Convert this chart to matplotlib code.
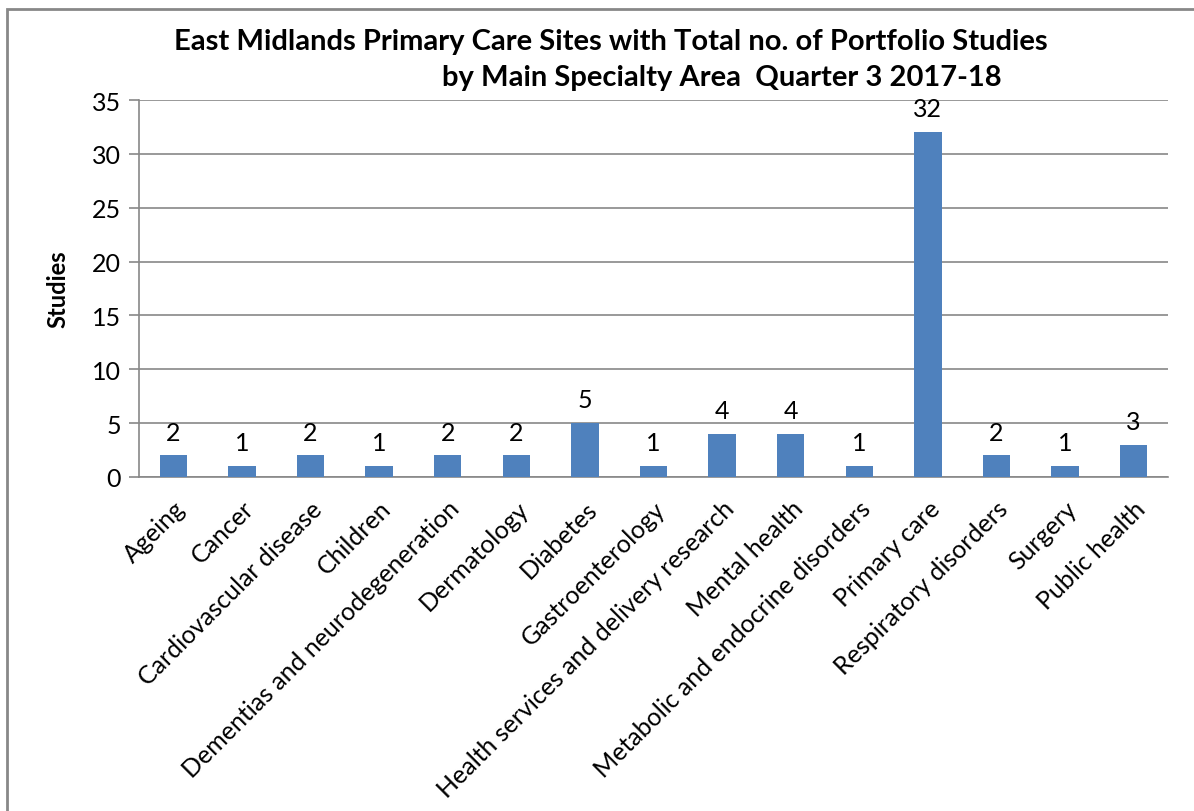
import matplotlib.pyplot as plt
from matplotlib.patches import Rectangle

plt.rcParams['font.family'] = ['Lato', 'DejaVu Sans']

categories = ['Ageing', 'Cancer', 'Cardiovascular disease', 'Children',
              'Dementias and neurodegeneration', 'Dermatology', 'Diabetes',
              'Gastroenterology', 'Health services and delivery research',
              'Mental health', 'Metabolic and endocrine disorders',
              'Primary care', 'Respiratory disorders', 'Surgery', 'Public health']
studies = [2, 1, 2, 1, 2, 2, 5, 1, 4, 4, 1, 32, 2, 1, 3]
yticks = [0, 5, 10, 15, 20, 25, 30, 35]

W, H = 1194, 812
fig = plt.figure(figsize=(W / 100, H / 100), dpi=100)
ax = fig.add_axes([139 / W, 1 - 478 / H, (1168 - 139) / W, (478 - 101) / H])

x = range(len(categories))
bars = ax.bar(x, studies, width=0.4, color='#4F81BD', zorder=3)
for xi, v in zip(x, studies):
    ax.text(xi, v + 1.1, str(v), ha='center', va='bottom', fontsize=18)

ax.set_xlim(-0.5, len(categories) - 0.5)
ax.set_ylim(0, 35)
ax.set_yticks(yticks)
ax.tick_params(axis='y', labelsize=18, length=7, color='#888888', width=1.2, pad=6)
ax.tick_params(axis='x', length=0, pad=14)
ax.set_xticks(list(x))
ax.set_xticklabels(categories, rotation=45, ha='right', rotation_mode='anchor',
                   fontsize=18)
ax.grid(axis='y', color='#888888', linewidth=1.2, zorder=0)
for s in ['top', 'right']:
    ax.spines[s].set_visible(False)
for s in ['left', 'bottom']:
    ax.spines[s].set_color('#888888')
    ax.spines[s].set_linewidth(1.2)

ax.set_ylabel('Studies', fontsize=17, fontweight='bold', labelpad=16)

fig.text(611 / W, 1 - 42 / H, 'East Midlands Primary Care Sites with Total no. of Portfolio Studies',
         ha='center', va='center', fontsize=21, fontweight='bold')
fig.text(722 / W, 1 - 78 / H, 'by Main Specialty Area  Quarter 3 2017-18',
         ha='center', va='center', fontsize=21, fontweight='bold')

fig.patches.append(Rectangle((7 / W, -0.1), 1.2, 1 - 10 / H + 0.1,
                             transform=fig.transFigure, fill=False,
                             edgecolor='#888888', linewidth=2))

fig.savefig('out.png', dpi=100)
